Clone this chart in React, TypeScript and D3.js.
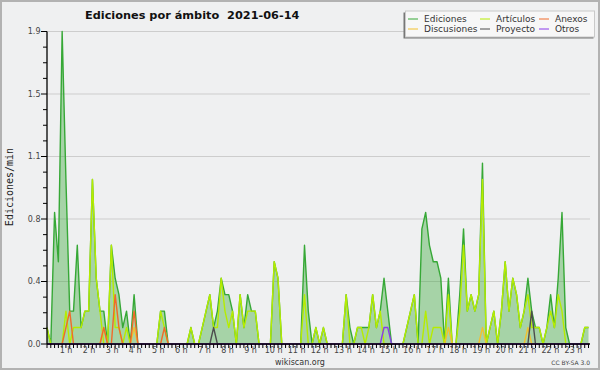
import * as d3 from "d3";

// 10-minute slots over the day, values in edits per minute
const SLOTS = 144;

const ediciones = [
  0.1, 0, 0.8, 0.5, 1.9, 1.0, 0.2, 0.2, 0.6, 0.1, 0.2, 0.2,
  1.0, 0.4, 0.2, 0.2, 0, 0.6, 0.4, 0.3, 0.1, 0.2, 0, 0.3,
  0, 0, 0, 0, 0, 0, 0.2, 0.2, 0, 0, 0, 0,
  0, 0, 0.1, 0, 0, 0.1, 0.2, 0.3, 0.1, 0.2, 0.4, 0.3,
  0.3, 0.2, 0, 0.3, 0.1, 0.3, 0.2, 0.2, 0, 0, 0, 0,
  0.5, 0.4, 0, 0, 0, 0, 0, 0, 0.6, 0.2, 0, 0.1,
  0, 0.1, 0, 0, 0, 0, 0, 0.3, 0.1, 0, 0.1, 0.1,
  0.1, 0.1, 0.3, 0.1, 0.2, 0.4, 0.2, 0, 0, 0, 0, 0.1,
  0.2, 0.3, 0, 0.7, 0.8, 0.6, 0.5, 0.5, 0.4, 0, 0.4, 0,
  0, 0.3, 0.7, 0.2, 0.3, 0.2, 0.3, 1.1, 0, 0.1, 0.2, 0,
  0.2, 0.5, 0.2, 0.4, 0.3, 0.1, 0.2, 0.4, 0.2, 0.1, 0.1, 0,
  0.1, 0.3, 0.1, 0.4, 0.8, 0.1, 0, 0, 0, 0, 0.1, 0.1,
];

const articulos = [
  0.1, 0, 0, 0, 0, 0.2, 0, 0.1, 0.1, 0.1, 0.2, 0.2,
  1.0, 0.4, 0.2, 0, 0, 0.6, 0.1, 0.1, 0, 0.1, 0, 0,
  0, 0, 0, 0, 0, 0, 0.2, 0.1, 0, 0, 0, 0,
  0, 0, 0.1, 0, 0, 0.1, 0.2, 0.3, 0.1, 0.1, 0.4, 0.2,
  0.1, 0.2, 0, 0.3, 0.1, 0.2, 0.2, 0.2, 0, 0, 0, 0,
  0.5, 0.4, 0, 0, 0, 0, 0, 0, 0.3, 0, 0, 0.1,
  0, 0.1, 0, 0, 0, 0, 0, 0.3, 0, 0, 0.1, 0.1,
  0, 0.1, 0.3, 0.1, 0.2, 0, 0, 0, 0, 0, 0, 0.1,
  0.2, 0.3, 0, 0, 0.2, 0, 0.1, 0.1, 0.1, 0, 0.3, 0,
  0, 0.2, 0.6, 0.2, 0.3, 0.2, 0.3, 1.0, 0, 0.1, 0.2, 0,
  0.2, 0.5, 0.2, 0.4, 0.3, 0.1, 0.2, 0.3, 0.1, 0.1, 0.1, 0,
  0.1, 0.2, 0.1, 0.3, 0.2, 0, 0, 0, 0, 0, 0.1, 0.1,
];

const discusiones = [
  0, 0, 0, 0, 0, 0, 0, 0, 0, 0, 0, 0,
  0, 0, 0, 0.1, 0, 0, 0, 0, 0, 0, 0, 0.1,
  0, 0, 0, 0, 0, 0, 0, 0, 0, 0, 0, 0,
  0, 0, 0, 0, 0, 0, 0, 0, 0, 0, 0, 0,
  0, 0, 0, 0, 0, 0, 0, 0, 0, 0, 0, 0,
  0, 0, 0, 0, 0, 0, 0, 0, 0, 0, 0, 0,
  0, 0, 0, 0, 0, 0, 0, 0, 0, 0, 0, 0,
  0, 0, 0, 0, 0, 0, 0, 0, 0, 0, 0, 0,
  0, 0, 0, 0, 0, 0, 0, 0, 0, 0, 0.1, 0,
  0, 0, 0, 0, 0, 0, 0, 0.1, 0, 0, 0, 0,
  0, 0, 0, 0, 0, 0, 0, 0.1, 0, 0, 0, 0,
  0, 0, 0, 0, 0, 0, 0, 0, 0, 0, 0, 0,
];

const anexos = [
  0, 0, 0, 0, 0, 0.1, 0.2, 0, 0, 0, 0, 0,
  0, 0, 0, 0.1, 0, 0, 0.3, 0.1, 0, 0, 0, 0.2,
  0, 0, 0, 0, 0, 0, 0, 0.1, 0, 0, 0, 0,
  0, 0, 0, 0, 0, 0, 0, 0, 0, 0, 0, 0,
  0, 0, 0, 0, 0, 0, 0, 0, 0, 0, 0, 0,
  0, 0, 0, 0, 0, 0, 0, 0, 0, 0, 0, 0,
  0, 0, 0, 0, 0, 0, 0, 0, 0, 0, 0, 0,
  0, 0, 0, 0, 0, 0, 0, 0, 0, 0, 0, 0,
  0, 0, 0, 0, 0, 0, 0, 0, 0, 0, 0, 0,
  0, 0, 0, 0, 0, 0, 0, 0, 0, 0, 0, 0,
  0, 0, 0, 0, 0, 0, 0, 0, 0, 0, 0, 0,
  0, 0, 0, 0, 0, 0, 0, 0, 0, 0, 0, 0,
];

const proyecto = [
  0, 0, 0, 0, 0, 0, 0, 0, 0, 0, 0, 0,
  0, 0, 0, 0, 0, 0, 0, 0, 0, 0, 0, 0,
  0, 0, 0, 0, 0, 0, 0, 0, 0, 0, 0, 0,
  0, 0, 0, 0, 0, 0, 0, 0, 0.1, 0, 0, 0,
  0, 0, 0, 0, 0, 0, 0, 0, 0, 0, 0, 0,
  0, 0, 0, 0, 0, 0, 0, 0, 0, 0, 0, 0,
  0, 0, 0, 0, 0, 0, 0, 0, 0, 0, 0, 0,
  0, 0, 0, 0, 0, 0, 0, 0, 0, 0, 0, 0,
  0, 0, 0, 0, 0, 0, 0, 0, 0, 0, 0, 0,
  0, 0, 0, 0, 0, 0, 0, 0, 0, 0, 0, 0,
  0, 0, 0, 0, 0, 0, 0, 0, 0.2, 0, 0, 0,
  0, 0, 0, 0, 0, 0, 0, 0, 0, 0, 0, 0,
];

const otros = [
  0, 0, 0, 0, 0, 0, 0, 0, 0, 0, 0, 0,
  0, 0, 0, 0, 0, 0, 0, 0, 0, 0, 0, 0,
  0, 0, 0, 0, 0, 0, 0, 0, 0, 0, 0, 0,
  0, 0, 0, 0, 0, 0, 0, 0, 0, 0, 0, 0,
  0, 0, 0, 0, 0, 0, 0, 0, 0, 0, 0, 0,
  0, 0, 0, 0, 0, 0, 0, 0, 0, 0, 0, 0,
  0, 0, 0, 0, 0, 0, 0, 0, 0, 0, 0, 0,
  0, 0, 0, 0, 0, 0.1, 0.1, 0, 0, 0, 0, 0,
  0, 0, 0, 0, 0, 0, 0, 0, 0, 0, 0, 0,
  0, 0, 0, 0, 0, 0, 0, 0, 0, 0, 0, 0,
  0, 0, 0, 0, 0, 0, 0, 0, 0, 0, 0, 0,
  0, 0, 0, 0, 0, 0, 0, 0, 0, 0, 0, 0,
];

const Y_MAX = 1.9;
const hours = d3.range(1, 24);

const series = [
  { name: "Ediciones", color: "#36a836", data: ediciones },
  { name: "Artículos", color: "#b6ec00", data: articulos },
  { name: "Anexos", color: "#f06a2a", data: anexos },
  { name: "Discusiones", color: "#f2c12e", data: discusiones },
  { name: "Proyecto", color: "#4d4d4d", data: proyecto },
  { name: "Otros", color: "#8a3bea", data: otros },
];
// legend reads row by row: Ediciones, Artículos, Anexos / Discusiones, Proyecto, Otros
const drawOrder = ["Ediciones", "Artículos", "Discusiones", "Anexos", "Proyecto", "Otros"];

const FONT = "DejaVu Sans";

export default function App() {
  const width = 600;
  const height = 370;
  const left = 47;
  const right = 588.5;
  const top = 31.5;
  const bottom = 344;

  const x = d3.scaleLinear([0, SLOTS - 1], [left, right]);
  const y = d3.scaleLinear([0, Y_MAX], [bottom, top]);
  const hourX = d3.scaleLinear([1, 23], [66, 573.5]);

  const line = d3.line<number>((_, i) => x(i), (v) => y(v));
  const area = d3.area<number>((_, i) => x(i), y(0), (v) => y(v));

  const yMajor = d3.range(0, 6).map((k) => (Y_MAX * k) / 5);
  const yMinor = d3.range(0, 21).map((k) => (Y_MAX * k) / 20);
  const fmt = d3.format(".1f");

  const legendCol = [408, 480, 539];
  const legendRow = [19.5, 29.5];

  return (
    <>
      <style>{"body{margin:0}"}</style>
      <svg width={width} height={height} style={{ display: "block" }}>
        <rect x={0} y={0} width={width} height={height} fill="#eff0f1" />
        <rect x={1} y={1} width={width - 2} height={height - 2} fill="none" stroke="#b2b2b2" strokeWidth={2} />

        {/* grid */}
        {yMajor.slice(1).map((v) => (
          <line key={v} x1={left} x2={590} y1={y(v)} y2={y(v)} stroke="#cdcdcd" strokeWidth={1} />
        ))}

        {/* area + lines */}
        <path d={area(ediciones) as string} fill="#3aa83a" fillOpacity={0.4} />
        {drawOrder.map((n) => {
          const s = series.find((d) => d.name === n)!;
          return (
            <path
              key={n}
              d={line(s.data) as string}
              fill="none"
              stroke={s.color}
              strokeWidth={1.4}
              strokeLinejoin="round"
            />
          );
        })}

        {/* y axis */}
        <line x1={left} x2={left} y1={top} y2={bottom} stroke="#000" strokeWidth={1.3} />
        {yMinor.map((v, i) => (
          <line key={i} x1={i % 4 === 0 ? left - 6 : left - 4} x2={left} y1={y(v)} y2={y(v)} stroke="#000" strokeWidth={1} />
        ))}
        {yMajor.map((v) => (
          <text key={v} x={40.5} y={y(v)} dy="0.35em" textAnchor="end" fontFamily={FONT} fontSize={8} fill="#444">
            {fmt(v)}
          </text>
        ))}
        <text
          transform={`translate(13,187) rotate(-90)`}
          textAnchor="middle"
          fontFamily="DejaVu Sans Mono"
          fontSize={10}
          fill="#222"
        >
          Ediciones/min
        </text>

        {/* x axis */}
        <line x1={left} x2={590} y1={bottom} y2={bottom} stroke="#000" strokeWidth={1.3} />
        {d3.range(SLOTS).map((i) => (
          <line key={i} x1={x(i)} x2={x(i)} y1={bottom} y2={bottom + 4} stroke="#000" strokeWidth={1} />
        ))}
        {hours.map((h) => (
          <text key={h} x={hourX(h)} y={353} textAnchor="middle" fontFamily={FONT} fontSize={8} fill="#444">
            {`${h} h`}
          </text>
        ))}
        <text x={300} y={365} textAnchor="middle" fontFamily={FONT} fontSize={8} fill="#333">
          wikiscan.org
        </text>
        <text x={590} y={365} textAnchor="end" fontFamily={FONT} fontSize={6} fill="#444">
          CC BY-SA 3.0
        </text>

        {/* title */}
        <text x={85} y={18.5} fontFamily={FONT} fontWeight="bold" fontSize={11.3} fill="#111">
          {"Ediciones por ámbito\u00a0\u00a02021-06-14"}
        </text>

        {/* legend */}
        <rect x={403.5} y={12.5} width={190} height={26} fill="#777" />
        <rect x={405.5} y={11} width={189} height={26} fill="#f7f7f7" stroke="#c9c9c9" strokeWidth={1} />
        {series.map((s, i) => {
          const cx = legendCol[i % 3];
          const cy = legendRow[Math.floor(i / 3)];
          return (
            <g key={s.name}>
              <line x1={cx} x2={cx + 10} y1={cy - 0.5} y2={cy - 0.5} stroke={s.color} strokeWidth={1} />
              <text x={cx + 16} y={cy} dy="0.33em" fontFamily={FONT} fontSize={9} fill="#333">
                {s.name}
              </text>
            </g>
          );
        })}
      </svg>
    </>
  );
}
